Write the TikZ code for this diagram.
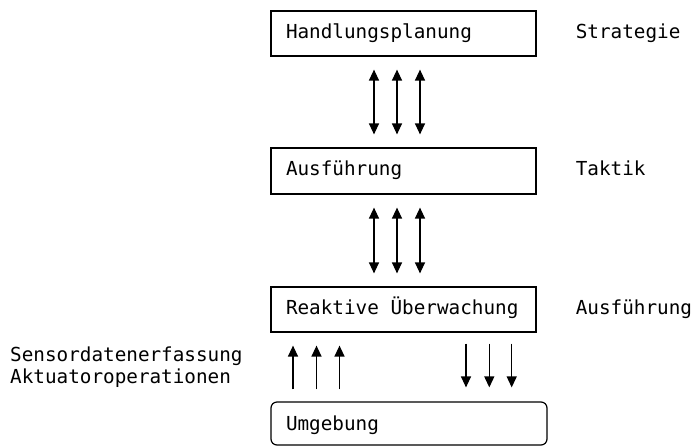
\documentclass[tikz,border=0pt]{standalone}
\usepackage{fontspec}
\setmainfont{DejaVu Sans Mono}
\usetikzlibrary{arrows.meta}
\begin{document}
\begin{tikzpicture}[x=1pt,y=-1pt,
  every node/.style={font=\fontsize{19.3}{22.3}\selectfont, inner sep=0pt,
    execute at begin node={\spaceskip=0.6021em\relax\xspaceskip=0.6021em\relax}},
  layerbox/.style={draw, line width=1.2pt, minimum width=265pt, text width=235pt,
    inner xsep=15pt, text height=14.5pt, text depth=4.8pt},
  envbox/.style={layerbox, rounded corners=6pt, minimum width=276pt, text width=246pt,
    text depth=0.6pt},
  sidelbl/.style={anchor=west, text height=14.5pt, text depth=4.8pt},
  leftlbl/.style={anchor=base west},
  tip/.tip={Triangle[width=10pt,length=11pt]},
  dblarrow/.style={line width=1.3pt, {tip}-{tip}, shorten <=13pt, shorten >=13pt},
  uparrow/.style={line width=1.3pt, -{tip}, shorten <=12pt, shorten >=13pt},
  dnarrow/.style={line width=1.3pt, -{tip}, shorten <=11pt, shorten >=14pt}]
\useasboundingbox (0,0) rectangle (693,445);

\node[layerbox, minimum height=45pt] (b1) at (403.5,33.5) {Handlungsplanung};
\node[layerbox, minimum height=46pt] (b2) at (403.5,171) {Ausführung};
\node[layerbox, minimum height=45pt] (b3) at (403.5,309.5) {Reaktive Überwachung};
\node[envbox, minimum height=43pt] (b4) at (409,423.5) {Umgebung};

\node[sidelbl] (l1) at ([xshift=39pt]b1.east) {Strategie};
\node[sidelbl] (l2) at ([xshift=39pt]b2.east) {Taktik};
\node[sidelbl] (l3) at ([xshift=39pt]b3.east) {Ausführung};
\node[leftlbl] (l4) at (10,361) {Sensordatenerfassung};
\node[leftlbl] (l5) at (10,383.3) {Aktuatoroperationen};

\foreach \dx in {-29.5,-6.5,16.5} {
  \draw[dblarrow] ([xshift=\dx pt]b1.south) -- ([xshift=\dx pt]b2.north);
  \draw[dblarrow] ([xshift=\dx pt]b2.south) -- ([xshift=\dx pt]b3.north);
}
\foreach \dx in {-110.5,-87,-64} {
  \draw[uparrow] ([xshift=\dx pt]b3.south |- b4.north) -- ([xshift=\dx pt]b3.south);
}
\foreach \dx in {62.5,85.8,108.2} {
  \draw[dnarrow] ([xshift=\dx pt]b3.south) -- ([xshift=\dx pt]b3.south |- b4.north);
}
\end{tikzpicture}
\end{document}
